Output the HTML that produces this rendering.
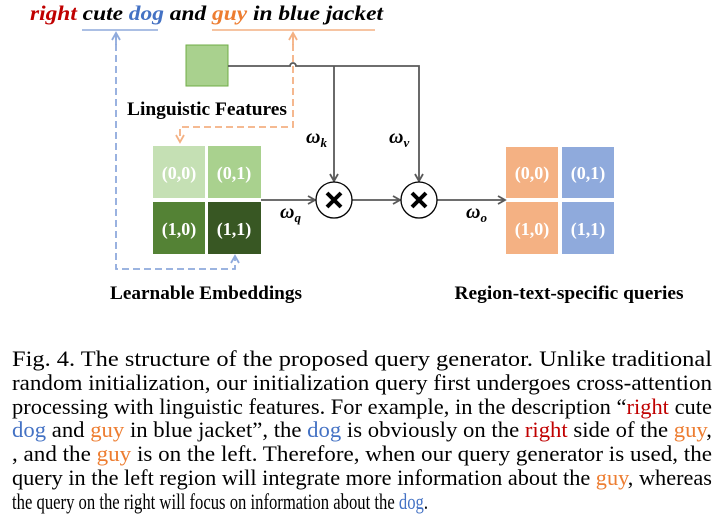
<!DOCTYPE html>
<html><head><meta charset="utf-8"><style>
html,body{margin:0;padding:0;background:#fff;width:721px;height:525px;overflow:hidden}
svg{display:block}
text{font-family:"Liberation Serif",serif}
</style></head><body>
<svg width="721" height="525" viewBox="0 0 721 525" xmlns="http://www.w3.org/2000/svg">
<defs>
<marker id="ag" markerWidth="10" markerHeight="10" refX="8" refY="5" orient="auto" markerUnits="userSpaceOnUse"><path d="M1,1 L8,5 L1,9" fill="none" stroke="#595959" stroke-width="1.8"/></marker>
<marker id="ao" markerWidth="10" markerHeight="10" refX="8" refY="5" orient="auto" markerUnits="userSpaceOnUse"><path d="M1,1 L8,5 L1,9" fill="none" stroke="#f4b183" stroke-width="1.8"/></marker>
<marker id="ab" markerWidth="10" markerHeight="10" refX="8" refY="5" orient="auto" markerUnits="userSpaceOnUse"><path d="M1,1 L8,5 L1,9" fill="none" stroke="#8faadc" stroke-width="1.8"/></marker>
</defs>
<text x="30" y="20" font-size="21" font-weight="bold" font-style="italic" textLength="353" lengthAdjust="spacingAndGlyphs"><tspan fill="#c00000">right</tspan> cute <tspan fill="#4472c4">dog</tspan> and <tspan fill="#ed7d31">guy</tspan> in blue jacket</text>
<line x1="82" y1="30" x2="158" y2="30" stroke="#8faadc" stroke-width="1.6"/>
<line x1="212" y1="30" x2="375" y2="30" stroke="#f4b183" stroke-width="1.6"/>
<path d="M293,33 L293,127 L180,127 L180,142" fill="none" stroke="#f4b183" stroke-width="1.8" stroke-dasharray="7,4" marker-end="url(#ao)"/>
<path d="M116,33 L116,269 L235,269 L235,256" fill="none" stroke="#8faadc" stroke-width="1.8" stroke-dasharray="7,4" marker-end="url(#ab)"/>
<path d="M116,45 L116,33" stroke="#8faadc" stroke-width="1.8" marker-end="url(#ab)"/>
<path d="M293,45 L293,33" stroke="#f4b183" stroke-width="1.8" marker-end="url(#ao)"/>
<rect x="186" y="45" width="42" height="41" fill="#a9d18e" stroke="#70ad47" stroke-width="1"/>
<text x="207" y="115" font-size="19" font-weight="bold" text-anchor="middle" textLength="160" lengthAdjust="spacingAndGlyphs">Linguistic Features</text>
<path d="M228,66 L290,66 A3,3 0 0 1 296,66 L419,66 L419,181" fill="none" stroke="#595959" stroke-width="1.8" marker-end="url(#ag)"/>
<path d="M334,66 L334,181" fill="none" stroke="#595959" stroke-width="1.8" marker-end="url(#ag)"/>
<path d="M261,200 L315,200" stroke="#595959" stroke-width="1.8" marker-end="url(#ag)"/>
<path d="M352,200 L400,200" stroke="#595959" stroke-width="1.8" marker-end="url(#ag)"/>
<path d="M437,200 L505,200" stroke="#595959" stroke-width="1.8" marker-end="url(#ag)"/>
<circle cx="334" cy="200" r="18" fill="#fff" stroke="#000" stroke-width="1.3"/>
<path d="M327,193 L341,207 M341,193 L327,207" stroke="#000" stroke-width="4"/>
<circle cx="419" cy="200" r="18" fill="#fff" stroke="#000" stroke-width="1.3"/>
<path d="M412,193 L426,207 M426,193 L412,207" stroke="#000" stroke-width="4"/>
<g font-weight="bold" font-style="italic" font-size="20">
<text x="306" y="143">ω<tspan font-size="13" dy="4">k</tspan></text>
<text x="389" y="143">ω<tspan font-size="13" dy="4">v</tspan></text>
<text x="280" y="218">ω<tspan font-size="13" dy="4">q</tspan></text>
<text x="466" y="218">ω<tspan font-size="13" dy="4">o</tspan></text>
</g>
<rect x="153" y="146" width="52" height="52" fill="#c5e0b4"/>
<rect x="208" y="146" width="53" height="52" fill="#a9d18e"/>
<rect x="153" y="202" width="52" height="52" fill="#548235"/>
<rect x="208" y="202" width="53" height="52" fill="#385723"/>
<g fill="#fff" font-size="18" font-weight="bold" text-anchor="middle">
<text x="179" y="179">(0,0)</text><text x="234" y="179">(0,1)</text>
<text x="179" y="235">(1,0)</text><text x="234" y="235">(1,1)</text>
</g>
<text x="206" y="299" font-size="19" font-weight="bold" text-anchor="middle" textLength="192" lengthAdjust="spacingAndGlyphs">Learnable Embeddings</text>
<rect x="506" y="147" width="52" height="51" fill="#f4b183"/>
<rect x="562" y="147" width="52" height="51" fill="#8faadc"/>
<rect x="506" y="202" width="52" height="52" fill="#f4b183"/>
<rect x="562" y="202" width="52" height="52" fill="#8faadc"/>
<g fill="#fff" font-size="18" font-weight="bold" text-anchor="middle">
<text x="532" y="179">(0,0)</text><text x="588" y="179">(0,1)</text>
<text x="532" y="235">(1,0)</text><text x="588" y="235">(1,1)</text>
</g>
<text x="569" y="299" font-size="19" font-weight="bold" text-anchor="middle" textLength="229" lengthAdjust="spacingAndGlyphs">Region-text-specific queries</text>
<g font-size="22" fill="#000">
<text x="12" y="366" textLength="700" lengthAdjust="spacingAndGlyphs">Fig. 4.  The structure of the proposed query generator. Unlike traditional</text>
<text x="12" y="390" textLength="700" lengthAdjust="spacingAndGlyphs">random initialization, our initialization query first undergoes cross-attention</text>
<text x="12" y="414" textLength="700" lengthAdjust="spacingAndGlyphs">processing with linguistic features. For example, in the description “<tspan fill="#c00000">right</tspan> cute</text>
<text x="12" y="437" textLength="700" lengthAdjust="spacingAndGlyphs"><tspan fill="#4472c4">dog</tspan> and <tspan fill="#ed7d31">guy</tspan> in blue jacket”, the <tspan fill="#4472c4">dog</tspan> is obviously on the <tspan fill="#c00000">right</tspan> side of the <tspan fill="#ed7d31">guy</tspan>,</text>
<text x="12" y="461" textLength="700" lengthAdjust="spacingAndGlyphs">, and the <tspan fill="#ed7d31">guy</tspan> is on the left. Therefore, when our query generator is used, the</text>
<text x="12" y="485" textLength="700" lengthAdjust="spacingAndGlyphs">query in the left region will integrate more information about the <tspan fill="#ed7d31">guy</tspan>, whereas</text>
<text x="12" y="509" textLength="416" lengthAdjust="spacingAndGlyphs">the query on the right will focus on information about the <tspan fill="#4472c4">dog</tspan>.</text>
</g>
</svg>
</body></html>
